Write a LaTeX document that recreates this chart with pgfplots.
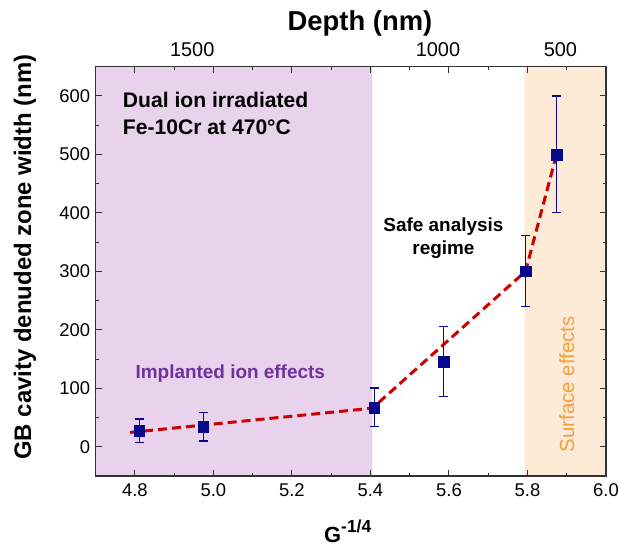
\documentclass[border=0pt]{standalone}
\usepackage{fontspec}
\setmainfont{Liberation Sans}
\usepackage{pgfplots}
\pgfplotsset{compat=1.18}

\definecolor{implant}{RGB}{232,210,236}
\definecolor{surface}{RGB}{253,234,215}
\definecolor{ptblue}{RGB}{8,8,138}
\definecolor{trendred}{RGB}{204,0,0}
\definecolor{implanttext}{RGB}{112,48,160}
\definecolor{surfacetext}{RGB}{248,158,60}
\definecolor{framegray}{RGB}{50,50,50}

\begin{document}
\begin{tikzpicture}
\useasboundingbox (-95.6bp,-72bp) rectangle (522.4bp,476bp);

% main axis: G^{-1/4} below, denuded zone width on the left
\begin{axis}[
  at={(0,0)}, anchor=south west,
  scale only axis,
  width=510.4bp, height=409.3bp,
  xmin=4.7, xmax=6.0, ymin=-50, ymax=650,
  clip=false,
  axis on top,
  xtick={4.8,5.0,5.2,5.4,5.6,5.8,6.0},
  xticklabels={4.8,5.0,5.2,5.4,5.6,5.8,6.0},
  ytick={0,100,200,300,400,500,600},
  yticklabels={0,100,200,300,400,500,600},
  minor x tick num=1, minor y tick num=1,
  tick align=inside,
  tick pos=both,
  xticklabel pos=lower, yticklabel pos=left,
  major tick length=6bp, minor tick length=3.5bp,
  tick style={framegray, line width=1bp},
  axis line style={framegray, line width=1.3bp},
  xticklabel style={font=\fontsize{18.5}{18.5}\selectfont, yshift=-4bp},
  yticklabel style={font=\fontsize{18.5}{18.5}\selectfont, xshift=-2bp},
]

% shaded regimes
\addplot[draw=none, fill=implant] coordinates {(4.7,-50) (5.405,-50) (5.405,650) (4.7,650) (4.7,-50)};
\addplot[draw=none, fill=surface] coordinates {(5.793,-50) (6.0,-50) (6.0,650) (5.793,650) (5.793,-50)};

% dashed guide through the measurements
\addplot[trendred, line width=3bp, dash pattern=on 9bp off 5bp] coordinates {
  (4.788,24.5) (5.405,66) (5.795,300) (5.874,500)
};

% measured widths with error bars
\addplot[ptblue, only marks, mark=square*, mark size=5.3bp,
  mark options={fill=ptblue, draw=ptblue},
  error bars/.cd, y dir=both, y explicit,
  error bar style={ptblue, line width=1.2bp},
  error mark options={ptblue, line width=1.2bp, mark size=4.5bp, rotate=90}]
  coordinates {
  (4.811,27.6) +- (0,20)
  (4.974,34.4) +- (0,24.7)
  (5.410,67.3) +- (0,33.3)
  (5.587,145.5) +- (0,59.5)
  (5.795,300.5) +- (0,60.5)
  (5.874,500) +- (0,100)
};

% annotations
\node[font=\bfseries\fontsize{21.2}{21.2}\selectfont, anchor=base west, inner sep=0] at (axis cs:4.769,581) {Dual ion irradiated};
\node[font=\bfseries\fontsize{21.2}{21.2}\selectfont, anchor=base west, inner sep=0] at (axis cs:4.769,534.6) {Fe-10Cr at 470°C};
\node[font=\bfseries\fontsize{19}{19}\selectfont, anchor=base, inner sep=0] at (axis cs:5.586,368) {Safe analysis};
\node[font=\bfseries\fontsize{19}{19}\selectfont, anchor=base, inner sep=0] at (axis cs:5.586,328.4) {regime};
\node[font=\bfseries\fontsize{19}{19}\selectfont, text=implanttext, anchor=base, inner sep=0] at (axis cs:5.043,116.6) {Implanted ion effects};
\node[font=\fontsize{20.5}{20.5}\selectfont, text=surfacetext, rotate=90, anchor=center, inner sep=0] at (axis cs:5.900,106.9) {Surface effects};

% axis titles
\node[font=\bfseries\fontsize{24}{24}\selectfont, rotate=90, anchor=center, inner sep=0] at (rel axis cs:-0.1383,0.535) {GB cavity denuded zone width (nm)};
\node[font=\bfseries\fontsize{22}{22}\selectfont, anchor=base, inner sep=0] at (rel axis cs:0.494,-0.163) {G\raisebox{0.48em}{\fontsize{17.5}{17.5}\selectfont -1/4}};
\node[font=\bfseries\fontsize{27.5}{27.5}\selectfont, anchor=base, inner sep=0] at (rel axis cs:0.518,1.088) {Depth (nm)};
\end{axis}

% depth scale on top
\begin{axis}[
  at={(0,0)}, anchor=south west,
  scale only axis,
  width=510.4bp, height=409.3bp,
  xmin=4.7, xmax=6.0, ymin=-50, ymax=650,
  axis x line*=top, hide y axis,
  axis line style={draw=none},
  xtick={4.946,5.572,5.884},
  xticklabels={1500,1000,500},
  major tick length=0pt,
  xticklabel style={font=\fontsize{20}{20}\selectfont, yshift=6bp},
]
\end{axis}
\end{tikzpicture}
\end{document}
